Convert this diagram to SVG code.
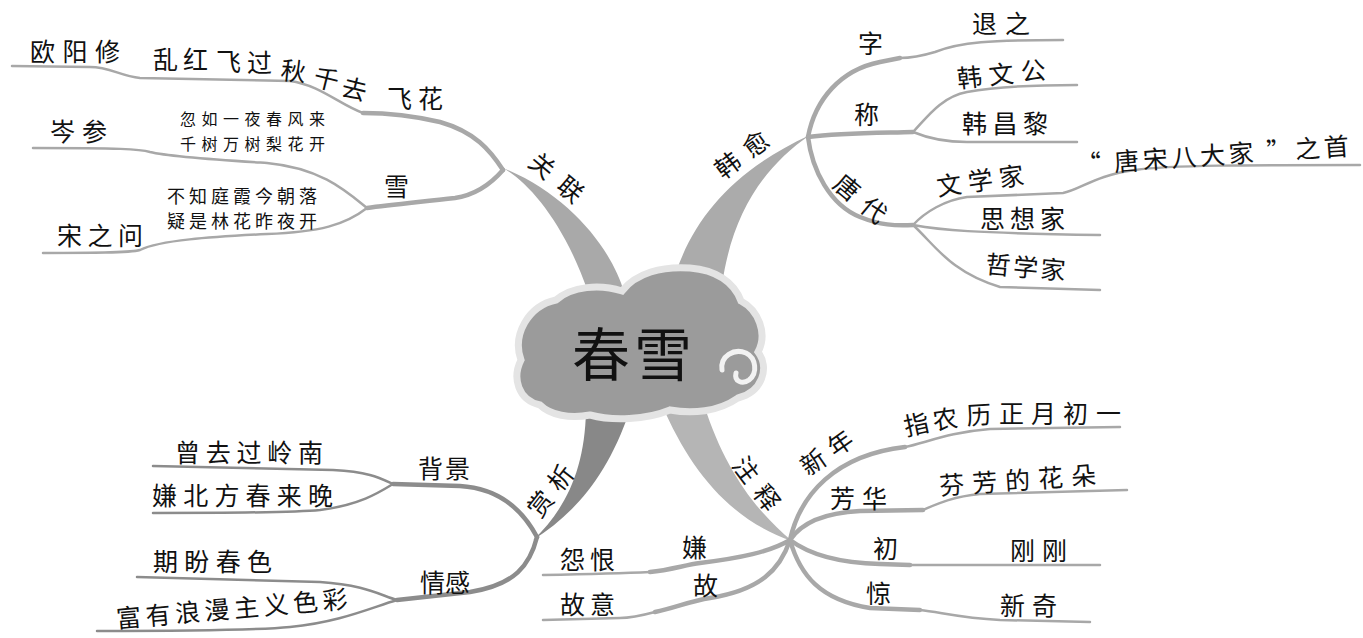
<svg xmlns="http://www.w3.org/2000/svg" width="1363" height="638" viewBox="0 0 1363 638">
<style>
text{font-family:"Noto Sans CJK SC","Noto Sans",sans-serif;fill:#111;}
.l{font-size:25px;}
.s{font-size:16px;}
.p{font-size:18px;}
.c{fill:none;stroke:#a8a8a8;stroke-linecap:round;stroke-linejoin:round;}
.d{stroke:#8c8c8c;}
.t{stroke-width:4.5;}
.n{stroke-width:2.5;}
</style>
<rect width="1363" height="638" fill="#fff"/>
<g id="connectors">
  <path d="M503,168 C530,183 565,225 588,292 L624,292 C612,250 570,195 503,168 Z" fill="#a9a9a9"/>
  <path d="M672,285 C690,222 730,172 810,135 C762,168 732,215 722,285 Z" fill="#ababab"/>
  <path d="M586,410 C585,470 565,510 533,540 C572,515 606,480 630,410 Z" fill="#888"/>
  <path d="M662,405 C690,470 730,520 792,541 C755,510 725,470 704,405 Z" fill="#b5b5b5"/>
  <path class="c t" d="M503,170 C490,150 475,132 440,122 C410,115 385,113 363,113"/>
  <path class="c n" d="M363,113 C340,105 320,85 290,81 L140,78 C120,76 110,67 90,67 L12,66"/>
  <path class="c t" d="M503,170 C490,185 475,195 455,198 C420,202 390,205 367,208"/>
  <path class="c n" d="M367,208 C345,190 320,168 267,163 C220,160 170,157 150,152 C140,149 120,148 33,148"/>
  <path class="c n" d="M367,208 C345,225 320,232 267,234 C210,237 160,240 140,250 C130,253 90,253 43,253"/>
  <path class="c t" d="M808,137 C815,100 840,70 880,62 L900,58"/>
  <path class="c n" d="M900,58 C915,58 925,55 935,52 C960,42 990,40 1063,40"/>
  <path class="c t" d="M808,137 C840,133 880,133 913,132"/>
  <path class="c n" d="M913,132 C925,120 940,97 967,92 C1000,86 1040,85 1077,85"/>
  <path class="c n" d="M913,132 C925,137 945,142 967,142 L1077,142"/>
  <path class="c t" d="M808,137 C812,170 830,205 860,217 C880,225 895,226 913,225"/>
  <path class="c n" d="M913,225 C925,212 945,200 967,197 L1063,193 C1080,190 1095,175 1135,170 C1170,165 1250,165 1360,165"/>
  <path class="c n" d="M913,225 C940,230 970,233 1100,235"/>
  <path class="c n" d="M913,225 C935,245 950,272 1000,287 L1100,290"/>
  <path class="c d t" d="M537,537 C520,505 495,488 460,486 L393,484"/>
  <path class="c d n" d="M393,484 C380,478 370,472 333,470 L153,466"/>
  <path class="c d n" d="M393,484 C380,492 360,505 320,510 C290,513 200,513 153,513"/>
  <path class="c d t" d="M537,537 C530,565 515,585 470,592 L397,600"/>
  <path class="c d n" d="M397,600 C380,595 365,585 320,582 L137,577"/>
  <path class="c d n" d="M397,600 C370,608 340,622 290,627 C250,631 150,631 97,631"/>
  <path class="c t" d="M790,540 C770,552 740,558 700,563 C685,565 670,570 650,572"/>
  <path class="c n" d="M650,572 C630,573 600,574 543,575"/>
  <path class="c t" d="M790,540 C780,570 760,590 710,598 C690,601 675,608 655,612"/>
  <path class="c n" d="M655,612 C640,616 630,618 620,618 L543,620"/>
  <path class="c t" d="M790,540 C800,495 835,455 905,447"/>
  <path class="c n" d="M905,447 C925,443 950,432 990,429 L1120,427"/>
  <path class="c t" d="M790,540 C800,525 820,513 860,511 L923,510"/>
  <path class="c n" d="M923,510 C935,505 950,497 980,494 L1127,490"/>
  <path class="c t" d="M790,540 C810,555 840,563 880,564 L910,565"/>
  <path class="c n" d="M910,565 L1100,565"/>
  <path class="c t" d="M790,540 C800,575 820,600 870,608 L920,610"/>
  <path class="c n" d="M920,610 C940,612 960,618 1000,620 L1090,622"/>
</g>
<g id="center">
  <path d="M540,405 C518,400 512,378 521,360 C512,335 528,306 556,300 C572,286 600,284 622,291 C636,273 662,266 690,268 C716,270 734,282 741,301 C758,310 768,333 758,352 C770,368 762,392 738,398 C718,412 692,414 670,410 C646,420 612,421 590,415 C570,419 550,415 540,405 Z" fill="#9b9b9b" stroke="#e4e4e4" stroke-width="7"/>
  <path d="M722,370 C720,356 734,348 746,353 C756,358 758,373 749,380 C742,385 734,381 736,373" fill="none" stroke="#f2f2f2" stroke-width="5" stroke-linecap="round"/>
  <text x="634" y="376" font-size="58" text-anchor="middle" letter-spacing="4">春雪</text>
</g>
<g id="node-guanlian"><text class="l" transform="translate(556,178) rotate(40)" text-anchor="middle" dy="0.35em" textLength="62">关联</text></g>
<g id="node-hanyu"><text class="l" transform="translate(742,155) rotate(-37)" text-anchor="middle" dy="0.35em" textLength="60">韩愈</text></g>
<g id="node-shangxi"><text class="l" transform="translate(551,491) rotate(-52)" text-anchor="middle" dy="0.35em" textLength="58">赏析</text></g>
<g id="node-zhushi"><text class="l" transform="translate(756,484) rotate(53)" text-anchor="middle" dy="0.35em" textLength="60">注释</text></g>

<g id="node-ouyangxiu"><text class="l" x="30" y="61" textLength="90">欧阳修</text></g>
<g id="node-luanhong"><text class="l" x="153 183 216 247 280 312 340" y="69 69 71 72 79 85 95" rotate="0 0 0 0 6 14 14">乱红飞过秋千去</text></g>
<g id="node-feihua"><text class="l" x="387" y="108" textLength="56">飞花</text></g>
<g id="node-censhen"><text class="l" x="50" y="141" textLength="57">岑参</text></g>
<g id="node-poem1"><text class="s" x="180" y="125" textLength="145">忽如一夜春风来</text><text class="s" x="180" y="150" textLength="145">千树万树梨花开</text></g>
<g id="node-xue"><text class="l" x="384" y="196">雪</text></g>
<g id="node-poem2"><text class="p" x="167" y="203" textLength="150">不知庭霞今朝落</text><text class="p" x="167" y="228" textLength="150">疑是林花昨夜开</text></g>
<g id="node-songzhiwen"><text class="l" x="57" y="245" textLength="86">宋之问</text></g>

<g id="node-zi"><text class="l" x="858" y="53">字</text></g>
<g id="node-tuizhi"><text class="l" x="972" y="33" textLength="58">退之</text></g>
<g id="node-cheng"><text class="l" x="854" y="124">称</text></g>
<g id="node-hanwengong"><text class="l" transform="translate(958,88) rotate(-6)" textLength="89">韩文公</text></g>
<g id="node-hanchangli"><text class="l" x="962" y="133" textLength="86">韩昌黎</text></g>
<g id="node-tangdai"><text class="l" transform="translate(860,199) rotate(40)" text-anchor="middle" dy="0.35em" textLength="60">唐代</text></g>
<g id="node-wenxuejia"><text class="l" transform="translate(938,196) rotate(-8)" textLength="88">文学家</text></g>
<g id="node-tangsong"><text class="l" transform="translate(1077,174) rotate(-4)" textLength="273">“ 唐宋八大家 ”之首</text></g>
<g id="node-sixiangjia"><text class="l" x="980" y="228" textLength="85">思想家</text></g>
<g id="node-zhexuejia"><text class="l" transform="translate(985,273) rotate(5)" textLength="80">哲学家</text></g>

<g id="node-beijing"><text class="l" x="418" y="478" textLength="52">背景</text></g>
<g id="node-cengqu"><text class="l" x="175" y="462" textLength="148">曾去过岭南</text></g>
<g id="node-xianbei"><text class="l" x="152" y="505" textLength="181">嫌北方春来晚</text></g>
<g id="node-qinggan"><text class="l" x="420" y="592" textLength="50">情感</text></g>
<g id="node-qipan"><text class="l" x="153" y="571" textLength="119">期盼春色</text></g>
<g id="node-fuyou"><text class="l" transform="translate(117,628) rotate(-5)" textLength="232">富有浪漫主义色彩</text></g>

<g id="node-xian"><text class="l" x="682" y="557">嫌</text></g>
<g id="node-yuanhen"><text class="l" x="560" y="569" textLength="55">怨恨</text></g>
<g id="node-gu"><text class="l" x="693" y="595">故</text></g>
<g id="node-guyi"><text class="l" x="560" y="614" textLength="55">故意</text></g>

<g id="node-xinnian"><text class="l" transform="translate(827,453) rotate(-35)" text-anchor="middle" dy="0.35em" textLength="58">新年</text></g>
<g id="node-zhinongli"><text class="l" x="906 934 967 999 1031 1063 1096" y="436 430 425 423 423 423 423" rotate="-12 -8 -4 0 0 0 0">指农历正月初一</text></g>
<g id="node-fanghua"><text class="l" x="830" y="508" textLength="57">芳华</text></g>
<g id="node-fenfang"><text class="l" transform="translate(940,495) rotate(-4)" textLength="157">芬芳的花朵</text></g>
<g id="node-chu"><text class="l" x="873" y="558">初</text></g>
<g id="node-ganggang"><text class="l" x="1010" y="560" textLength="57">刚刚</text></g>
<g id="node-jing"><text class="l" x="866" y="603">惊</text></g>
<g id="node-xinqi"><text class="l" x="1000" y="615" textLength="57">新奇</text></g>
</svg>
